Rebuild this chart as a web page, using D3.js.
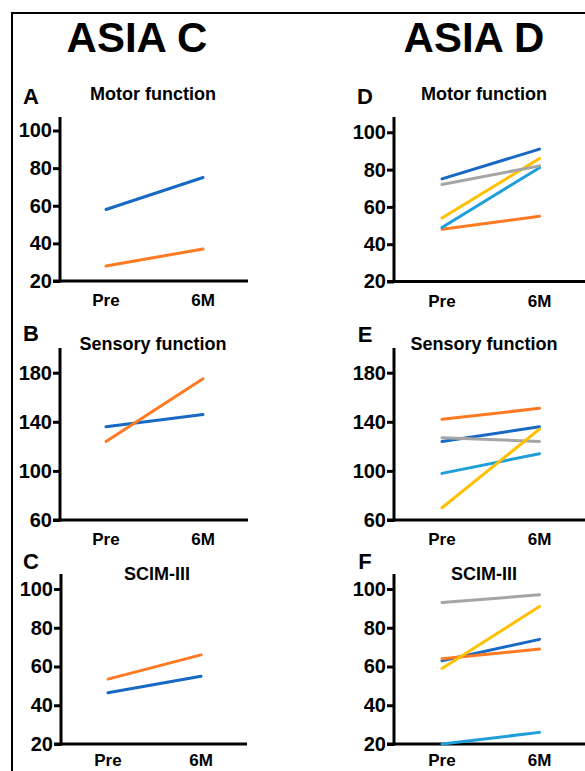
<!DOCTYPE html>
<html><head><meta charset="utf-8">
<script src="https://cdn.jsdelivr.net/npm/d3@7"></script>
<style>
html,body{margin:0;padding:0;background:#fff;}
svg{display:block;font-family:"Liberation Sans",Arial,sans-serif;font-weight:bold;}
</style></head>
<body><svg id="c" width="585" height="771"></svg>
<script>
// ---- data ----
const timepoints = ["Pre", "6M"];
const motorTicks = [20, 40, 60, 80, 100];
const sensoryTicks = [60, 100, 140, 180];
const scimTicks = [20, 40, 60, 80, 100];

const seriesColors = {
  darkBlue: "#1769C4", orange: "#FF7A22", gray: "#A5A5A5",
  yellow: "#FFC000", lightBlue: "#1E9FD9"
};

// ASIA C
const motorC_darkBlue = [58, 75];
const motorC_orange = [28, 37];
const sensoryC_darkBlue = [136, 146];
const sensoryC_orange = [124, 175];
const scimC_orange = [53.5, 66];
const scimC_darkBlue = [46.5, 55];

// ASIA D
const motorD_darkBlue = [75, 91];
const motorD_gray = [72, 82];
const motorD_yellow = [54, 86];
const motorD_lightBlue = [49, 81];
const motorD_orange = [48, 55];

const sensoryD_orange = [142, 151];
const sensoryD_darkBlue = [124, 136];
const sensoryD_gray = [127, 124];
const sensoryD_lightBlue = [98, 114];
const sensoryD_yellow = [70, 134];

const scimD_gray = [93, 97];
const scimD_yellow = [59, 91];
const scimD_darkBlue = [63, 74];
const scimD_orange = [64, 69];
const scimD_lightBlue = [20, 26];

const groupTitles = ["ASIA C", "ASIA D"];

// ---- layout ----
const svg = d3.select("#c");

// frame
svg.append("path").attr("d", "M12,790 L12,13 L600,13")
  .attr("fill", "none").attr("stroke", "#000").attr("stroke-width", 2);

svg.append("text").attr("x", 137).attr("y", 52).attr("text-anchor", "middle")
  .attr("font-size", 42).text(groupTitles[0]);
svg.append("text").attr("x", 474).attr("y", 52).attr("text-anchor", "middle")
  .attr("font-size", 42).text(groupTitles[1]);

const panels = [
  {letter: "A", title: "Motor function", ax: 60, xEnd: 248, top: 117, bottom: 281, y0: 281, y1: 130.5,
   dom: [20, 100], ticks: motorTicks, px: [106, 203], lx: 31, ly: 104, tx: 153, ty: 100, lab: 25,
   series: [["darkBlue", motorC_darkBlue], ["orange", motorC_orange]]},
  {letter: "B", title: "Sensory function", ax: 60, xEnd: 248, top: 348, bottom: 520, y0: 520, y1: 372.7,
   dom: [60, 180], ticks: sensoryTicks, px: [106, 203], lx: 31, ly: 341, tx: 153, ty: 350, lab: 25,
   series: [["darkBlue", sensoryC_darkBlue], ["orange", sensoryC_orange]]},
  {letter: "C", title: "SCIM-III", ax: 61, xEnd: 247, top: 574, bottom: 744, y0: 744, y1: 589,
   dom: [20, 100], ticks: scimTicks, px: [108, 201], lx: 31, ly: 569, tx: 157, ty: 580, lab: 22,
   series: [["orange", scimC_orange], ["darkBlue", scimC_darkBlue]]},
  {letter: "D", title: "Motor function", ax: 394, xEnd: 590, top: 117, bottom: 281.5, y0: 281.5, y1: 132.3,
   dom: [20, 100], ticks: motorTicks, px: [442, 539.5], lx: 365, ly: 104, tx: 484, ty: 100, lab: 25,
   series: [["orange", motorD_orange], ["lightBlue", motorD_lightBlue], ["yellow", motorD_yellow],
            ["gray", motorD_gray], ["darkBlue", motorD_darkBlue]]},
  {letter: "E", title: "Sensory function", ax: 394, xEnd: 590, top: 348, bottom: 520, y0: 520, y1: 372.7,
   dom: [60, 180], ticks: sensoryTicks, px: [442, 539.5], lx: 365, ly: 342, tx: 484, ty: 350, lab: 25,
   series: [["lightBlue", sensoryD_lightBlue], ["darkBlue", sensoryD_darkBlue], ["gray", sensoryD_gray],
            ["orange", sensoryD_orange], ["yellow", sensoryD_yellow]]},
  {letter: "F", title: "SCIM-III", ax: 394, xEnd: 590, top: 574, bottom: 744, y0: 744, y1: 589,
   dom: [20, 100], ticks: scimTicks, px: [442, 539.5], lx: 365, ly: 569, tx: 484, ty: 580, lab: 22,
   series: [["lightBlue", scimD_lightBlue], ["gray", scimD_gray], ["darkBlue", scimD_darkBlue],
            ["orange", scimD_orange], ["yellow", scimD_yellow]]}
];

panels.forEach(p => {
  const g = svg.append("g");
  const y = d3.scaleLinear().domain(p.dom).range([p.y0, p.y1]);
  const x = d3.scalePoint().domain(timepoints).range(p.px);

  // letter and title
  g.append("text").attr("x", p.lx).attr("y", p.ly).attr("text-anchor", "middle")
    .attr("font-size", 22).text(p.letter);
  g.append("text").attr("x", p.tx).attr("y", p.ty).attr("text-anchor", "middle")
    .attr("font-size", 18).text(p.title);

  // y axis ticks
  const yAxis = d3.axisLeft(y).tickValues(p.ticks).tickSize(7).tickSizeOuter(0).tickPadding(1);
  const ya = g.append("g").attr("transform", `translate(${p.ax},0)`).call(yAxis);
  ya.select(".domain").remove();
  ya.selectAll(".tick line").attr("stroke", "#000").attr("stroke-width", 3);
  ya.selectAll(".tick text").attr("font-size", 20).attr("font-family", "Liberation Sans, Arial, sans-serif")
    .attr("font-weight", "bold").attr("fill", "#000");

  // axis lines
  g.append("line").attr("x1", p.ax).attr("x2", p.ax).attr("y1", p.top).attr("y2", p.bottom + 1.5)
    .attr("stroke", "#000").attr("stroke-width", 3);
  g.append("line").attr("x1", p.ax - 7).attr("x2", p.xEnd).attr("y1", p.bottom).attr("y2", p.bottom)
    .attr("stroke", "#000").attr("stroke-width", 3);

  // x labels
  timepoints.forEach(t => {
    g.append("text").attr("x", x(t)).attr("y", p.bottom + p.lab).attr("text-anchor", "middle")
      .attr("font-size", 17).text(t);
  });

  // lines
  const line = d3.line().x((d, i) => x(timepoints[i])).y(d => y(d));
  p.series.forEach(([c, vals]) => {
    g.append("path").attr("d", line(vals)).attr("fill", "none")
      .attr("stroke", seriesColors[c]).attr("stroke-width", 3).attr("stroke-linecap", "round");
  });
});
</script></body></html>
